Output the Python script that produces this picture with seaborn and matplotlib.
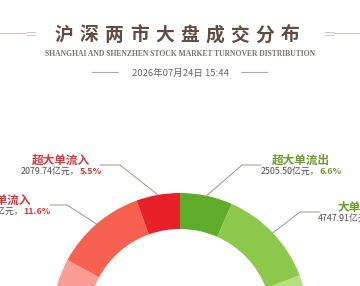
import math
import matplotlib
matplotlib.use('Agg')
import matplotlib.pyplot as plt
import seaborn as sns

# ---------------- data ----------------
categories = ['超大单流出', '大单流出', '中单流出', '小单流出',
              '小单流入', '中单流入', '大单流入', '超大单流入']
amounts = [2505.50, 4747.91, 5900.00, 5650.00, 6150.00, 6382.00, 4385.00, 2079.74]
percent_labels = ['6.6%', '12.6%', '15.6%', '14.9%', '16.3%', '16.9%', '11.6%', '5.5%']
ring_colors = ['#5fac2c', '#8cc84b', '#b5dd82', '#d2ecb4',
               '#fdd0cc', '#fb9c95', '#f8614f', '#e8202a']

title_cn = '沪深两市大盘成交分布'
title_en = 'SHANGHAI AND SHENZHEN STOCK MARKET TURNOVER DISTRIBUTION'
date_text = '2026年07月24日 15:44'

# ---------------- style ----------------
sns.set_theme(style='white')
plt.rcParams['font.family'] = ['Noto Sans CJK SC', 'DejaVu Sans']

W, H = 360, 286
fig = plt.figure(figsize=(W / 100, H / 100), dpi=100, facecolor='white')
ax = fig.add_axes([0, 0, 1, 1])


def Y(p):
    return H - p


# donut
cx, cy, R, ring_w = 180, Y(321), 128, 36
wedges, _ = ax.pie(amounts, colors=ring_colors, startangle=90, counterclock=False,
                   radius=R, center=(cx, cy),
                   wedgeprops=dict(width=ring_w, edgecolor='none', linewidth=0))
ax.set_xlim(0, W)
ax.set_ylim(0, H)
ax.set_aspect('equal')
ax.set_axis_off()

# ---------------- header ----------------
title_color = '#5f4d41'
for i, ch in enumerate(title_cn):
    ax.text(64 + 25.1 * i, Y(35), ch, ha='center', va='center',
            fontsize=13.5, fontweight='bold', color=title_color)
ax.text(180, Y(54.5), title_en, ha='center', va='center', fontsize=5.5,
        family='Liberation Serif', fontweight='bold', color='#7d716a')
ax.text(180, Y(73), date_text, ha='center', va='center', fontsize=6.8,
        color='#666666')
deco = '#cfc7c0'
ax.plot([0, 26], [Y(33), Y(33)], color=deco, lw=0.8)
ax.plot([27, 35], [Y(32), Y(32)], color=deco, lw=0.8)
ax.plot([27, 35], [Y(35), Y(35)], color=deco, lw=0.8)
ax.plot([334, 360], [Y(33), Y(33)], color=deco, lw=0.8)
ax.plot([325, 333], [Y(32), Y(32)], color=deco, lw=0.8)
ax.plot([325, 333], [Y(35), Y(35)], color=deco, lw=0.8)
ax.plot([92, 118], [Y(72), Y(72)], color='#aaaaaa', lw=0.8)
ax.plot([241, 267], [Y(72), Y(72)], color='#aaaaaa', lw=0.8)

# ---------------- callouts ----------------
# category -> (elbow x, line y, line end x, text centre x)
callouts = {
    '超大单流入': (120, 165, 100, 61),
    '大单流入': (67, 205, 50, 8),
    '超大单流出': (242, 165, 261, 301),
    '大单流出': (300, 212, 320, 361),
}
red_txt, green_txt = '#d6363c', '#6a9c2a'
renderer = fig.canvas.get_renderer()
for w, cat, amt, pct in zip(wedges, categories, amounts, percent_labels):
    if cat not in callouts:
        continue
    ex, ly, endx, tcx = callouts[cat]
    mid = math.radians((w.theta1 + w.theta2) / 2)
    px, py = cx + R * math.cos(mid), cy + R * math.sin(mid)
    ax.plot([px, ex, endx], [py, Y(ly), Y(ly)], color='#8f9a8c', lw=0.7)
    col = red_txt if '流入' in cat else green_txt
    ax.text(tcx, Y(ly - 5), cat, ha='center', va='center', fontsize=8.4,
            fontweight='bold', color=col)
    t1 = ax.text(0, Y(ly + 6.5), f'{amt:.2f}亿元，', ha='left', va='center',
                 fontsize=6.4, color='#4f4f4f')
    t2 = ax.text(0, Y(ly + 6.5), pct, ha='left', va='center', fontsize=6.4,
                 fontweight='bold', color=col)
    w1 = t1.get_window_extent(renderer).width
    w2 = t2.get_window_extent(renderer).width
    x0 = tcx - (w1 + w2) / 2
    t1.set_x(x0)
    t2.set_x(x0 + w1)

fig.savefig('out.png', dpi=100, facecolor='white')
